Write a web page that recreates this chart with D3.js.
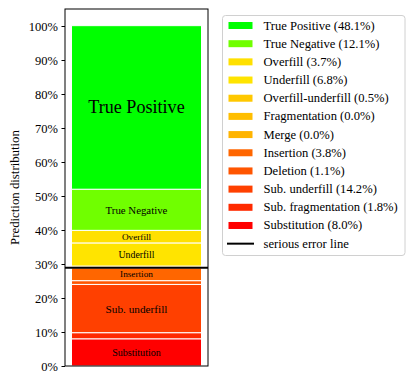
<!DOCTYPE html>
<html><head><meta charset="utf-8">
<script src="https://cdn.jsdelivr.net/npm/d3@7"></script>
<style>body{margin:0;background:#fff}svg{display:block}</style>
</head><body>
<script>
// Data (bottom to top of the stack)
const categories = ["Substitution","Sub. fragmentation","Sub. underfill","Deletion","Insertion","Merge","Fragmentation","Overfill-underfill","Underfill","Overfill","True Negative","True Positive"];
const values = [8.0,1.8,14.2,1.1,3.8,0.0,0.0,0.5,6.8,3.7,12.1,48.1];
const colors = ["#ff0000","#ff2a00","#ff4000","#ff5500","#ff6600","#ffb400","#ffbe00","#ffc800","#ffe400","#ffe000","#70ff00","#00ff00"];
const yTicks = [0,10,20,30,40,50,60,70,80,90,100];
const seriousErrorAfter = "Insertion"; // line drawn at the top of this category's cumulative share
const legendOrder = categories.slice().reverse();

const W = 415, H = 382;
const m = {left:65, right:208, top:9, bottom:366};
const serif = "'Liberation Serif','Times New Roman',Times,serif";

const svg = d3.select("body").append("svg").attr("width",W).attr("height",H);

const y = d3.scaleLinear().domain([0,105]).range([m.bottom,m.top]);
const x = d3.scaleLinear().domain([-0.495,0.495]).range([m.left,m.right]);

// stack
let cum = 0;
const segs = categories.map((c,i)=>{const s={cat:c,v:values[i],y0:cum,y1:cum+values[i],color:colors[i]};cum+=values[i];return s;});

svg.append("g").selectAll("rect").data(segs.filter(d=>d.v>0)).join("rect")
  .attr("x",x(-0.45)).attr("width",x(0.45)-x(-0.45))
  .attr("y",d=>y(d.y1)).attr("height",d=>y(d.y0)-y(d.y1))
  .attr("fill",d=>d.color).attr("stroke","#fff").attr("stroke-width",1);

// labels
const fs = d3.scaleLinear().domain([3.5,15,50]).range([9.2,11.4,18.5]).clamp(true);
svg.append("g").selectAll("text").data(segs.filter(d=>d.v>=3.5)).join("text")
  .attr("x",x(0)).attr("y",d=>y((d.y0+d.y1)/2))
  .attr("text-anchor","middle").attr("dominant-baseline","central")
  .attr("font-family",serif).attr("font-size",d=>fs(d.v)+"px").attr("fill","#000")
  .text(d=>d.cat);

// serious error line
const sIdx = categories.indexOf(seriousErrorAfter);
const sY = segs[sIdx].y1;
svg.append("line").attr("x1",m.left).attr("x2",m.right).attr("y1",y(sY)).attr("y2",y(sY))
  .attr("stroke","#000").attr("stroke-width",2);

// frame
svg.append("rect").attr("x",m.left).attr("y",m.top).attr("width",m.right-m.left).attr("height",m.bottom-m.top)
  .attr("fill","none").attr("stroke","#000").attr("stroke-width",1);

// y axis
const ax = svg.append("g").attr("transform",`translate(${m.left},0)`)
  .call(d3.axisLeft(y).tickValues(yTicks).tickFormat(d=>d+"%").tickSize(3.5).tickPadding(3.5));
ax.select(".domain").remove();
ax.selectAll("text").attr("font-family",serif).attr("font-size","12.5px").attr("fill","#000");
ax.selectAll("line").attr("stroke","#000");

svg.append("text").attr("transform",`translate(19,${(m.top+m.bottom)/2}) rotate(-90)`)
  .attr("text-anchor","middle").attr("font-family",serif).attr("font-size","12.8px").text("Prediction distribution");

// legend
const lg = svg.append("g");
lg.append("rect").attr("x",222.5).attr("y",15.5).attr("width",182.5).attr("height",240).attr("rx",3)
  .attr("fill","#fff").attr("stroke","#d0d0d0").attr("stroke-width",1);
const rowH = 18.18, row0 = 25.5;
legendOrder.forEach((c,i)=>{
  const idx = categories.indexOf(c);
  const cy = row0 + i*rowH;
  lg.append("rect").attr("x",228.5).attr("y",cy-3.5).attr("width",24).attr("height",7).attr("fill",colors[idx]);
  lg.append("text").attr("x",263.5).attr("y",cy).attr("dominant-baseline","central")
    .attr("font-family",serif).attr("font-size","12.6px").attr("fill","#000")
    .text(`${c} (${values[idx].toFixed(1)}%)`);
});
const ly = row0 + legendOrder.length*rowH;
lg.append("line").attr("x1",227).attr("x2",254).attr("y1",ly).attr("y2",ly).attr("stroke","#000").attr("stroke-width",2);
lg.append("text").attr("x",263.5).attr("y",ly).attr("dominant-baseline","central")
  .attr("font-family",serif).attr("font-size","12.6px").attr("fill","#000").text("serious error line");
</script>
</body></html>
